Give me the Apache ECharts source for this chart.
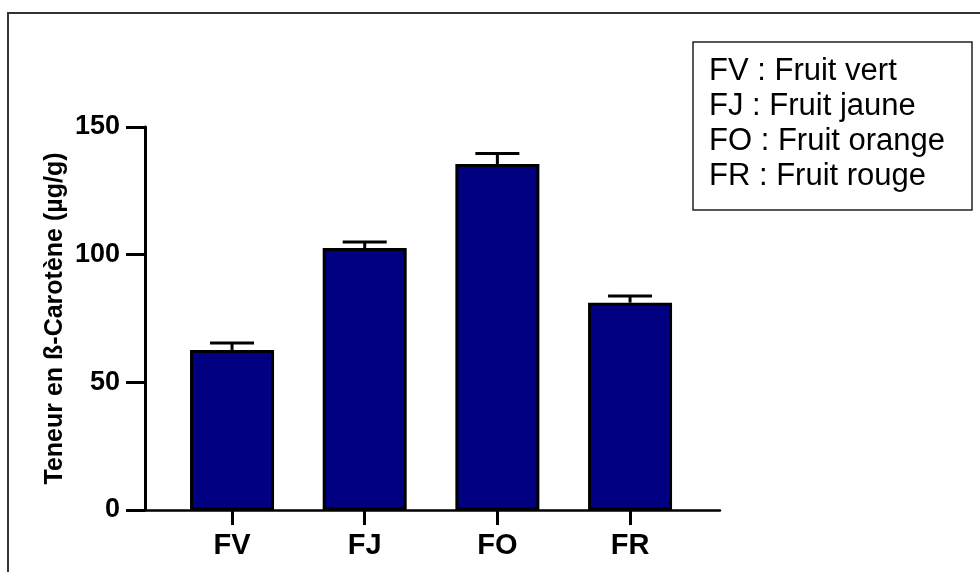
<!DOCTYPE html>
<html><head><meta charset="utf-8">
<script src="https://cdn.jsdelivr.net/npm/echarts@6/dist/echarts.min.js"></script>
<style>html,body{margin:0;padding:0;background:#fff}#c{width:980px;height:572px}</style>
</head><body><div id="c"></div>
<script>
var categories = ['FV', 'FJ', 'FO', 'FR'];
var values = [62.7, 102.6, 135.5, 81.2];
var errors = [2.7, 2.4, 4.1, 2.6];
var yTicks = [0, 50, 100, 150];
var legendLines = ['FV : Fruit vert', 'FJ : Fruit jaune', 'FO : Fruit orange', 'FR : Fruit rouge'];
var yTitle = 'Teneur en ß-Carotène (µg/g)';

var FONT = "'Liberation Sans', Arial, sans-serif";
var idx = categories.map(function (c, i) { return i; });

var chart = echarts.init(document.getElementById('c'));
chart.setOption({
  animation: false,
  backgroundColor: '#fff',
  grid: { left: 145, right: 260, top: 127, bottom: 62 },
  xAxis: {
    type: 'value', min: -0.656, max: 3.678,
    splitLine: { show: false },
    axisLine: { show: true, onZero: false, lineStyle: { color: '#000', width: 2.5 } },
    axisTick: { show: true, customValues: idx, length: 15, lineStyle: { color: '#000', width: 3 } },
    axisLabel: {
      customValues: idx, margin: 21,
      formatter: function (v) { return categories[Math.round(v)]; },
      color: '#000', fontFamily: FONT, fontWeight: 'bold', fontSize: 29
    }
  },
  yAxis: {
    type: 'value', min: 0, max: 150, interval: 50,
    splitLine: { show: false },
    name: yTitle, nameLocation: 'middle', nameGap: 77, nameRotate: 90, nameMoveOverlap: false,
    nameTextStyle: { color: '#000', fontFamily: FONT, fontWeight: 'bold', fontSize: 25 },
    axisLine: { show: true, onZero: false, lineStyle: { color: '#000', width: 3 } },
    axisTick: { show: true, length: 19, lineStyle: { color: '#000', width: 3 } },
    axisLabel: {
      margin: 25, color: '#000', fontFamily: FONT, fontWeight: 'bold', fontSize: 27,
      formatter: function (v) { return yTicks.indexOf(v) >= 0 ? String(v) : ''; }
    }
  },
  series: [
    {
      type: 'bar', barWidth: 84,
      data: idx.map(function (i) { return [i, values[i]]; }),
      itemStyle: { color: '#000080', borderColor: '#000', borderWidth: 3 },
      z: 2
    },
    {
      type: 'custom', z: 3,
      data: idx.map(function (i) { return [i, values[i], values[i] + errors[i]]; }),
      renderItem: function (params, api) {
        var p0 = api.coord([api.value(0), api.value(1)]);
        var p1 = api.coord([api.value(0), api.value(2)]);
        var hw = 22;
        return {
          type: 'group',
          children: [
            { type: 'line', shape: { x1: p0[0], y1: p0[1], x2: p1[0], y2: p1[1] }, style: { stroke: '#000', lineWidth: 3 } },
            { type: 'line', shape: { x1: p1[0] - hw, y1: p1[1], x2: p1[0] + hw, y2: p1[1] }, style: { stroke: '#000', lineWidth: 3 } }
          ]
        };
      }
    }
  ],
  graphic: [
    { type: 'rect', shape: { x: 8, y: 13, width: 1100, height: 800 }, style: { fill: 'none', stroke: '#333', lineWidth: 2 }, silent: true },
    { type: 'rect', shape: { x: 693, y: 42, width: 279, height: 168 }, style: { fill: '#fff', stroke: '#222', lineWidth: 1.5 }, silent: true },
    {
      type: 'text', left: 709, top: 54,
      style: { text: legendLines.join('\n'), font: '31px ' + FONT, lineHeight: 35, fill: '#000' }
    }
  ]
});
</script></body></html>
